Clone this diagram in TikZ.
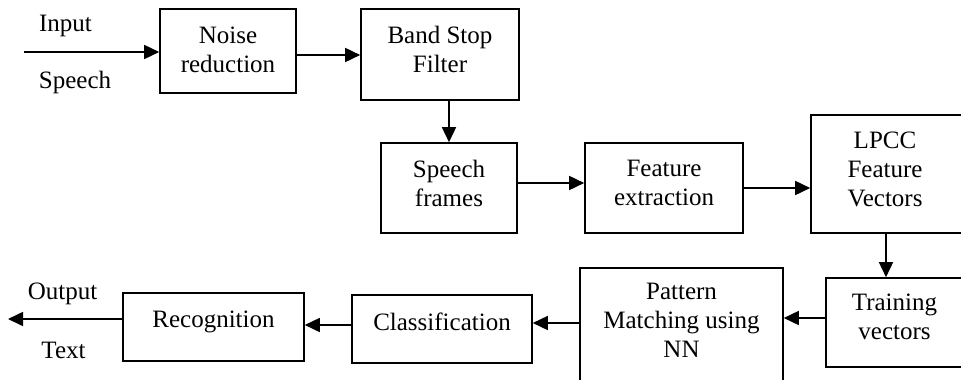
\documentclass[tikz,border=0pt]{standalone}
\usepackage{fontspec}
\setmainfont{Liberation Serif}
\usetikzlibrary{arrows.meta}
\begin{document}
\begin{tikzpicture}[x=1pt,y=-1pt,
  box/.style={draw,line width=1.6pt,inner sep=0pt},
  lbl/.style={align=center,inner sep=0pt,font=\fontsize{25}{29}\selectfont},
  arr/.style={line width=1.6pt,-{Triangle[length=15pt,width=14pt]}},
]
\useasboundingbox (0,0) rectangle (961,380);
\clip (0,0) rectangle (961,380);

% boxes
\node[box,minimum width=136pt,minimum height=84pt,label={[lbl,yshift=1.5pt]center:{Noise\\reduction}}] (noise) at (228,51) {};
\node[box,minimum width=158pt,minimum height=91pt,label={[lbl,yshift=5pt]center:{Band Stop\\Filter}}] (band) at (440,54.5) {};
\node[box,minimum width=136pt,minimum height=90pt,label={[lbl,yshift=5pt]center:{Speech\\frames}}] (speech) at (449,188) {};
\node[box,minimum width=158pt,minimum height=90pt,label={[lbl,yshift=5pt]center:{Feature\\extraction}}] (feat) at (664,188) {};
\node[box,minimum width=152pt,minimum height=118pt,label={[lbl,yshift=5pt,xshift=-2pt]center:{LPCC\\Feature\\Vectors}}] (lpcc) at (887,174) {};
\node[box,minimum width=137pt,minimum height=89pt,label={[lbl,yshift=5.5pt]center:{Training\\vectors}}] (train) at (894.5,322.5) {};
\node[box,minimum width=203pt,minimum height=118pt,label={[lbl,yshift=6.5pt]center:{Pattern\\Matching using\\NN}}] (pattern) at (681.5,327) {};
\node[box,minimum width=180pt,minimum height=68pt,label={[lbl,yshift=7.5pt]center:{Classification}}] (class) at (442,329) {};
\node[box,minimum width=181pt,minimum height=68pt,label={[lbl,yshift=5pt]center:{Recognition}}] (recog) at (213.5,327) {};

% free texts
\node[lbl,anchor=base] (tin) at (65.5,31.5) {Input};
\node[lbl,anchor=base] (tsp) at (75,88.5) {Speech};
\node[lbl,anchor=base] (tout) at (62.5,299) {Output};
\node[lbl,anchor=base] (ttxt) at (63.5,358) {Text};

% connectors
\coordinate (inp) at (24,52);
\draw[arr] (inp) -- (inp -| noise.west);
\coordinate (a1) at ([yshift=-4pt]noise.east);
\draw[arr] (a1) -- (a1 -| band.west);
\draw[arr] (band.south -| speech.north) -- (speech.north);
\coordinate (a2) at ([yshift=5pt]speech.east);
\draw[arr] (a2) -- (a2 -| feat.west);
\draw[arr] (feat.east) -- (feat.east -| lpcc.west);
\coordinate (a3) at ([xshift=-1pt]lpcc.south);
\draw[arr] (a3) -- (a3 |- train.north);
\coordinate (a4) at ([yshift=4.5pt]train.west);
\draw[arr] (a4) -- (a4 -| pattern.east);
\coordinate (a5) at ([yshift=4pt]pattern.west);
\draw[arr] (a5) -- (a5 -| class.east);
\coordinate (a6) at ([yshift=4pt]class.west);
\draw[arr] (a6) -- (a6 -| recog.east);
\coordinate (a7) at ([yshift=8pt]recog.west);
\coordinate (outp) at (8,319);
\draw[arr] (a7) -- (a7 -| outp);
\end{tikzpicture}
\end{document}
